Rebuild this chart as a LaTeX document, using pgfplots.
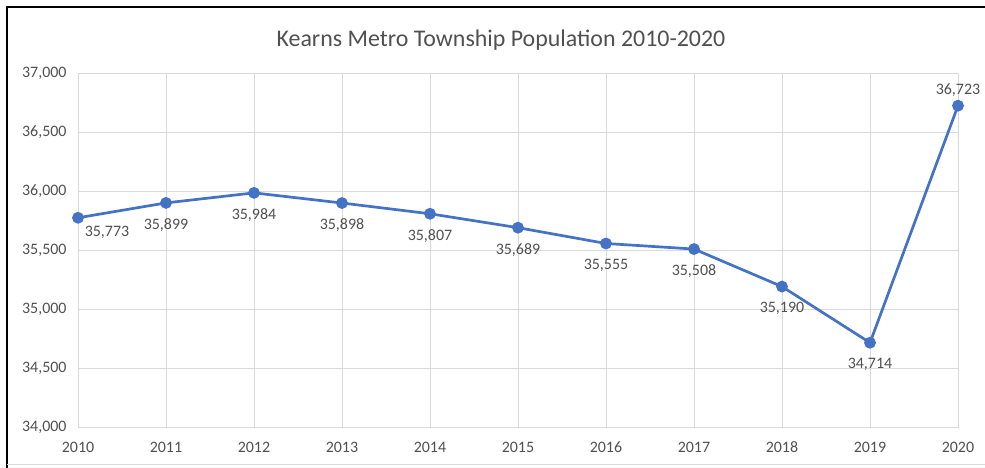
\documentclass[border=0pt]{standalone}
\usepackage{pgfplots}
\pgfplotsset{compat=1.18}
\usepackage{fontspec}
\setmainfont{Carlito}
\definecolor{lineblue}{HTML}{4472C4}
\definecolor{txtgray}{HTML}{505050}
\definecolor{gridgray}{HTML}{D9D9D9}
\begin{document}
\begin{tikzpicture}[x=1bp,y=1bp]
\path[use as bounding box] (0,0) rectangle (985,468);
\fill[white] (0,0) rectangle (985,468);
\draw[black,line width=1.5bp] (7,-2) -- (7,461) -- (990,461);
\draw[gridgray,line width=1bp] (7,3) -- (990,3);
\node[txtgray,font=\fontsize{24}{28}\selectfont] at (501,428) {Kearns Metro Township Population 2010-2020};
\begin{axis}[
  at={(78bp,41bp)}, anchor=south west,
  scale only axis, width=880bp, height=354bp,
  xmin=2010, xmax=2020, ymin=34000, ymax=37000,
  xtick={2010,...,2020}, ytick={34000,34500,...,37000},
  /pgf/number format/assume math mode=true,
  scaled y ticks=false,
  ticklabel style={font=\fontsize{16}{19}\selectfont, text=txtgray},
  x tick label style={/pgf/number format/1000 sep={}, anchor=center, yshift=-20bp},
  y tick label style={/pgf/number format/1000 sep={,}, anchor=east, xshift=-8bp},
  major tick length=0pt,
  grid=major, grid style={gridgray, line width=0.8bp},
  axis line style={gridgray, line width=0.8bp},
  clip=false,
]
\addplot[lineblue, line width=2.7bp, mark=*, mark size=4.5bp, mark options={fill=lineblue, draw=lineblue}]
  coordinates {(2010,35773) (2011,35899) (2012,35984) (2013,35898) (2014,35807) (2015,35689) (2016,35555) (2017,35508) (2018,35190) (2019,34714) (2020,36723)};
\addplot[draw=none, mark=none, nodes near coords, point meta=explicit symbolic,
  every node near coord/.style={anchor=center, yshift=-22bp, text=txtgray, font=\fontsize{16}{19}\selectfont}]
  coordinates {(2011,35899)[35,899] (2012,35984)[35,984] (2013,35898)[35,898] (2014,35807)[35,807] (2015,35689)[35,689] (2016,35555)[35,555] (2017,35508)[35,508] (2018,35190)[35,190] (2019,34714)[34,714]};
\addplot[draw=none, mark=none, nodes near coords, point meta=explicit symbolic,
  every node near coord/.style={anchor=center, xshift=29bp, yshift=-15bp, text=txtgray, font=\fontsize{16}{19}\selectfont}]
  coordinates {(2010,35773)[35,773]};
\addplot[draw=none, mark=none, nodes near coords, point meta=explicit symbolic,
  every node near coord/.style={anchor=center, yshift=16bp, text=txtgray, font=\fontsize{16}{19}\selectfont}]
  coordinates {(2020,36723)[36,723]};
\end{axis}
\end{tikzpicture}
\end{document}
